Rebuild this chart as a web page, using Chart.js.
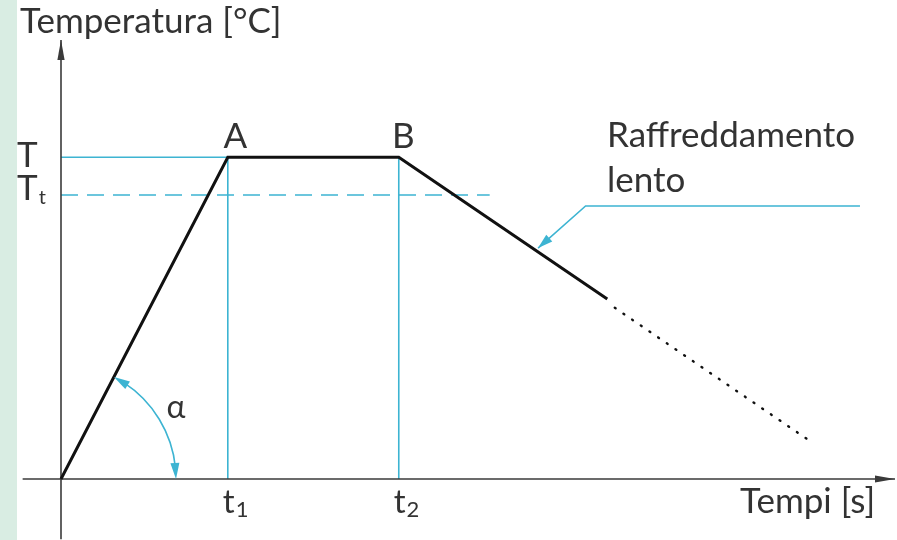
<!DOCTYPE html>
<html><head><meta charset="utf-8">
<script src="https://cdn.jsdelivr.net/npm/chart.js@4.4.1/dist/chart.umd.min.js"></script>
<style>
html,body{margin:0;padding:0;}
body{width:897px;height:540px;overflow:hidden;background:linear-gradient(to right,#d9ede3 0,#d9ede3 17px,#ffffff 17px);}
#wrap{position:relative;width:897px;height:540px;}
</style></head><body>
<div id="wrap"><canvas id="c" width="897" height="540"></canvas></div>
<script>
// ---- data (time units on x, temperature units on y) ----
const heatX = [0, 20, 40.5, 65.5];        // origin, A, B, end of solid cooling
const heatY = [0, 73.3, 73.3, 41.0];
const slowX = [66.4, 90.0];               // dotted continuation
const slowY = [39.0, 8.4];
const tempTicks = [73.3, 64.7];           // T, Tt
const tempTickLabels = ["T", "T"];
const tempTickSubs = ["", "t"];
const timeTicks = [20, 40.5];             // t1, t2
const timeTickLabels = ["t", "t"];
const timeTickSubs = ["1", "2"];
const ttLineEnd = 51.4;
const noteX = [57.2, 62.9, 95.8];         // leader for "Raffreddamento lento"
const noteY = [52.6, 62.2, 62.2];
const pointLabels = ["A", "B"];
const axisX = [-4.6, 100];
const axisY = [-13.7, 100];

const CYAN = '#3db4d2', INK = '#111111', AX = '#3a3a3a', TXT = '#333333';
const pts = (xs, ys) => xs.map((v, i) => ({x: v, y: ys[i]}));

const datasets = [
  {data: pts(heatX, heatY), borderColor: INK, borderWidth: 3, order: 0},
  {data: pts(slowX, slowY), borderColor: INK, borderWidth: 2.4, borderDash: [1, 9.5], borderCapStyle: 'round', order: 0},
  {data: [{x: axisX[0], y: 0}, {x: axisX[1], y: 0}], borderColor: AX, borderWidth: 1.6, order: 1},
  {data: [{x: 0, y: axisY[0]}, {x: 0, y: axisY[1]}], borderColor: AX, borderWidth: 1.6, order: 1},
  {data: [{x: 0, y: tempTicks[0]}, {x: timeTicks[0], y: tempTicks[0]}], borderColor: CYAN, borderWidth: 1.6, order: 2},
  {data: [{x: timeTicks[0], y: tempTicks[0]}, {x: timeTicks[0], y: 0}], borderColor: CYAN, borderWidth: 1.6, order: 2},
  {data: [{x: timeTicks[1], y: tempTicks[0]}, {x: timeTicks[1], y: 0}], borderColor: CYAN, borderWidth: 1.6, order: 2},
  {data: [{x: 0, y: tempTicks[1]}, {x: ttLineEnd, y: tempTicks[1]}], borderColor: CYAN, borderWidth: 1.6, borderDash: [17, 9], order: 2},
  {data: pts(noteX, noteY), borderColor: CYAN, borderWidth: 1.6, order: 2}
].map(d => Object.assign({showLine: true, pointRadius: 0, fill: false, clip: false, tension: 0}, d));

function arrowHead(ctx, x0, y0, x1, y1, len, half, color) {
  const a = Math.atan2(y1 - y0, x1 - x0), c = Math.cos(a), s = Math.sin(a);
  ctx.beginPath();
  ctx.moveTo(x1, y1);
  ctx.lineTo(x1 - len * c + half * s, y1 - len * s - half * c);
  ctx.lineTo(x1 - len * c - half * s, y1 - len * s + half * c);
  ctx.closePath();
  ctx.fillStyle = color;
  ctx.fill();
}

const FONT = 'Lato, "Noto Sans", sans-serif';
function label(ctx, txt, sub, x, y, size, subSize, align) {
  ctx.font = size + 'px ' + FONT;
  const w = ctx.measureText(txt).width;
  ctx.font = subSize + 'px ' + FONT;
  const ws = sub ? ctx.measureText(sub).width : 0;
  let left = x;
  if (align === 'center') left = x - w / 2;
  ctx.textAlign = 'left';
  ctx.textBaseline = 'alphabetic';
  ctx.fillStyle = TXT;
  ctx.font = size + 'px ' + FONT;
  ctx.fillText(txt, left, y);
  if (sub) {
    ctx.font = subSize + 'px ' + FONT;
    ctx.fillText(sub, left + w + 1, y + 4);
  }
}

const deco = {
  id: 'deco',
  afterDatasetsDraw(chart) {
    const {ctx, scales: {x, y}} = chart;
    const X = v => x.getPixelForValue(v), Y = v => y.getPixelForValue(v);
    ctx.save();
    // axis arrows
    arrowHead(ctx, X(axisX[1]) - 20, Y(0), X(axisX[1]), Y(0), 20, 3.6, AX);
    arrowHead(ctx, X(0), Y(axisY[1]) + 20, X(0), Y(axisY[1]), 20, 3.6, AX);
    // leader arrow
    arrowHead(ctx, X(noteX[1]), Y(noteY[1]), X(noteX[0]), Y(noteY[0]), 15, 4.5, CYAN);
    // alpha arc
    const ox = X(0), oy = Y(0);
    const th = Math.atan2(oy - Y(heatY[1]), X(heatX[1]) - ox);
    const r = 115;
    ctx.beginPath();
    ctx.strokeStyle = CYAN; ctx.lineWidth = 1.6;
    ctx.arc(ox, oy, r, -th + 0.1, -0.1, false);
    ctx.stroke();
    const d = 16 / r;
    arrowHead(ctx, ox + r * Math.cos(-th + d), oy + r * Math.sin(-th + d), ox + r * Math.cos(-th), oy + r * Math.sin(-th), 16, 4.5, CYAN);
    arrowHead(ctx, ox + r * Math.cos(-d), oy + r * Math.sin(-d), ox + r, oy, 16, 4.5, CYAN);
    // texts
    label(ctx, 'Temperatura [°C]', '', 20, 33, 35, 20, 'left');
    label(ctx, tempTickLabels[0], tempTickSubs[0], 17, Y(tempTicks[0]) + 10, 35, 20, 'left');
    label(ctx, tempTickLabels[1], tempTickSubs[1], 17, Y(tempTicks[1]) + 5, 35, 20, 'left');
    label(ctx, pointLabels[0], '', X(heatX[1]) + 7.5, Y(heatY[1]) - 9, 35, 20, 'center');
    label(ctx, pointLabels[1], '', X(heatX[2]) + 4.5, Y(heatY[2]) - 9, 35, 20, 'center');
    label(ctx, timeTickLabels[0], timeTickSubs[0], X(timeTicks[0]) - 5, Y(0) + 34, 33, 22, 'left');
    label(ctx, timeTickLabels[1], timeTickSubs[1], X(timeTicks[1]) - 5, Y(0) + 34, 33, 22, 'left');
    label(ctx, 'Raffreddamento', '', 607, 147, 35, 20, 'left');
    label(ctx, 'lento', '', 607, 192, 35, 20, 'left');
    label(ctx, 'Tempi [s]', '', 740, 513, 35, 20, 'left');
    label(ctx, 'α', '', 176, 418, 32, 20, 'center');
    ctx.restore();
  }
};

new Chart(document.getElementById('c'), {
  type: 'scatter',
  data: {datasets},
  options: {
    responsive: false,
    devicePixelRatio: 1,
    animation: false,
    events: [],
    layout: {padding: {left: 61, right: 2, top: 40, bottom: 61}},
    plugins: {legend: {display: false}, tooltip: {enabled: false}, title: {display: false}},
    scales: {
      x: {type: 'linear', min: 0, max: 100, display: false},
      y: {type: 'linear', min: 0, max: 100, display: false}
    }
  },
  plugins: [deco]
});
</script>
</body></html>
